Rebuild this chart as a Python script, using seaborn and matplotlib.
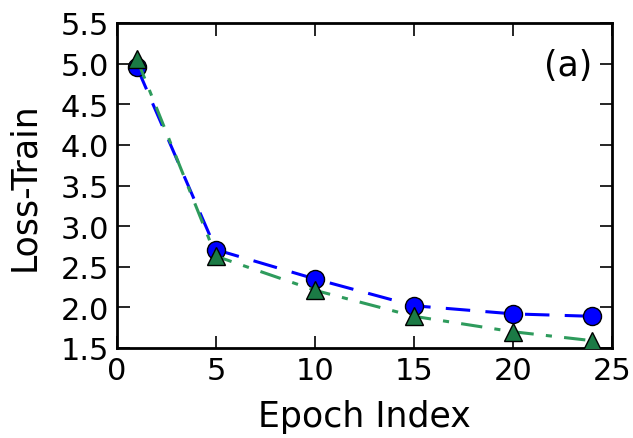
import matplotlib
matplotlib.use("Agg")
import matplotlib.pyplot as plt
import seaborn as sns
import pandas as pd

epochs = [1, 5, 10, 15, 20, 24]
loss_blue = [4.96, 2.71, 2.35, 2.02, 1.92, 1.89]
loss_green = [5.06, 2.63, 2.21, 1.89, 1.70, 1.59]
xticks = [0, 5, 10, 15, 20, 25]
yticks = [1.5, 2.0, 2.5, 3.0, 3.5, 4.0, 4.5, 5.0, 5.5]

sns.set_style("white")
plt.rcParams['font.family'] = ['DejaVu Sans']
plt.rcParams['text.color'] = 'black'
plt.rcParams['axes.labelcolor'] = 'black'
plt.rcParams['xtick.color'] = 'black'
plt.rcParams['ytick.color'] = 'black'

fig = plt.figure(figsize=(6.33, 4.39), dpi=100)
ax = fig.add_axes([117/633, 1-349/439, (612-117)/633, (349-24)/439])

df = pd.DataFrame({"epoch": epochs, "blue": loss_blue, "green": loss_green})
sns.lineplot(data=df, x="epoch", y="blue", ax=ax, color="#0000ff", lw=2.2,
             dashes=False, marker="o", markersize=13, markeredgecolor="black",
             markeredgewidth=1.0, markerfacecolor="#0000ff", zorder=3)
ax.lines[-1].set_dashes([8, 5])
sns.lineplot(data=df, x="epoch", y="green", ax=ax, color="#2e9b5c", lw=2.2,
             marker="^", markersize=13, markeredgecolor="black",
             markeredgewidth=1.0, markerfacecolor="#1b7a45", zorder=4)
ax.lines[-1].set_dashes([7, 4, 2, 4])

ax.set_xlim(0, 25)
ax.set_ylim(1.5, 5.5)
ax.set_xticks(xticks)
ax.set_yticks(yticks)
ax.set_xticklabels([str(t) for t in xticks])
ax.set_yticklabels([f"{t:.1f}" for t in yticks])
ax.tick_params(direction="in", length=9, width=1.2, labelsize=22, top=True, right=True,
               bottom=True, left=True, pad=6, colors="black")
for s in ax.spines.values():
    s.set_linewidth(2)
    s.set_color("black")
ax.set_xlabel("Epoch Index", fontsize=25, labelpad=10)
ax.set_ylabel("Loss-Train", fontsize=25, labelpad=14)
ax.text(0.96, 0.87, "(a)", transform=ax.transAxes, fontsize=25, ha="right", va="center")

fig.savefig("out.png", dpi=100)
